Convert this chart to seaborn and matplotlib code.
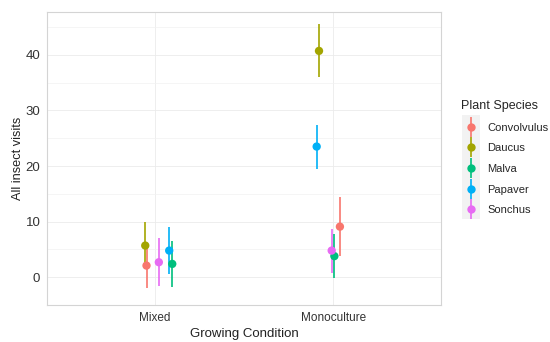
import pandas as pd; import numpy as np
import seaborn as sns; import matplotlib.pyplot as plt
from matplotlib.lines import Line2D
from matplotlib.legend_handler import HandlerTuple
from matplotlib.patches import Rectangle

species = ["Convolvulus", "Daucus", "Malva", "Papaver", "Sonchus"]
conditions = ["Mixed", "Monoculture"]
colors = ["#F8766D", "#A3A500", "#00BF7D", "#00B0F6", "#E76BF3"]

# mean visits and half-width of the error bar, per species
mean_mixed = [2.1, 5.7, 2.4, 4.8, 2.7]
err_mixed = [4.0, 4.3, 4.2, 4.2, 4.3]
mean_mono = [9.1, 40.7, 3.8, 23.5, 4.8]
err_mono = [5.3, 4.75, 4.0, 3.95, 3.95]
# horizontal jitter as seen in the picture
jitter_mixed = [-0.045, -0.052, 0.099, 0.082, 0.024]
jitter_mono = [0.037, -0.080, 0.006, -0.093, -0.009]

df = pd.DataFrame({
    "species": species * 2,
    "condition": ["Mixed"] * 5 + ["Monoculture"] * 5,
    "visits": mean_mixed + mean_mono,
    "err": err_mixed + err_mono,
    "jitter": jitter_mixed + jitter_mono,
})
df["xpos"] = df["condition"].map({c: i for i, c in enumerate(conditions)}) + df["jitter"]
df["lo"] = df["visits"] - df["err"]
df["hi"] = df["visits"] + df["err"]
pal = dict(zip(species, colors))

sns.set_theme(style="white")
plt.rcParams["font.family"] = ["Liberation Sans", "DejaVu Sans"]

fig = plt.figure(figsize=(5.5, 3.42), dpi=100)
ax = fig.add_axes([0.086, 0.108, 0.715, 0.857])

ax.vlines(df["xpos"], df["lo"], df["hi"], colors=df["species"].map(pal), linewidth=1.2, zorder=3)
sns.scatterplot(data=df, x="xpos", y="visits", hue="species", palette=pal,
                s=36, linewidth=0, legend=False, zorder=4, ax=ax)

ax.set_xlim(-0.6, 1.6)
ax.set_ylim(-4.13, 47.7)
ax.set_xticks([0, 1])
ax.set_xticklabels(conditions)
ax.set_yticks([0, 10, 20, 30, 40])
ax.set_yticks([-5, 5, 15, 25, 35, 45], minor=True)
ax.grid(True, which="major", color="#EBEBEB", linewidth=0.6, zorder=0)
ax.grid(True, which="minor", axis="y", color="#F2F2F2", linewidth=0.5, zorder=0)
ax.set_axisbelow(True)
for s in ax.spines.values():
    s.set_color("#D4D4D4")
    s.set_linewidth(0.8)
ax.tick_params(axis="both", which="major", length=3, width=0.6, color="#999999",
               labelcolor="#333333", pad=2)
ax.tick_params(axis="x", labelsize=8.5)
ax.tick_params(axis="y", labelsize=9.5)
ax.tick_params(axis="both", which="minor", length=0)
ax.set_xlabel("Growing Condition", fontsize=9.5, color="#222222", labelpad=3)
ax.set_ylabel("All insect visits", fontsize=9.2, color="#222222", labelpad=1)

# legend with point + vertical bar keys
handles = [(Line2D([], [], color=c, marker="|", markersize=15, mew=1.2, ls=""),
            Line2D([], [], color=c, marker="o", markersize=6, mew=0, ls=""))
           for c in colors]
fig.patches.append(Rectangle((461.5 / 550, 1 - 219 / 342), 18.5 / 550, 104 / 342,
                             transform=fig.transFigure, facecolor="#F2F2F2",
                             edgecolor="none", zorder=0))
leg = fig.legend(handles, species, title="Plant Species", loc="upper left",
                 bbox_to_anchor=(457 / 550, 1 - 95.5 / 342), frameon=False,
                 handler_map={tuple: HandlerTuple(ndivide=1)},
                 fontsize=8, title_fontsize=9, handlelength=1.7,
                 labelspacing=0.96, handletextpad=0.6, borderaxespad=0)
leg._legend_box.align = "left"

plt.savefig("out.png", dpi=100)
